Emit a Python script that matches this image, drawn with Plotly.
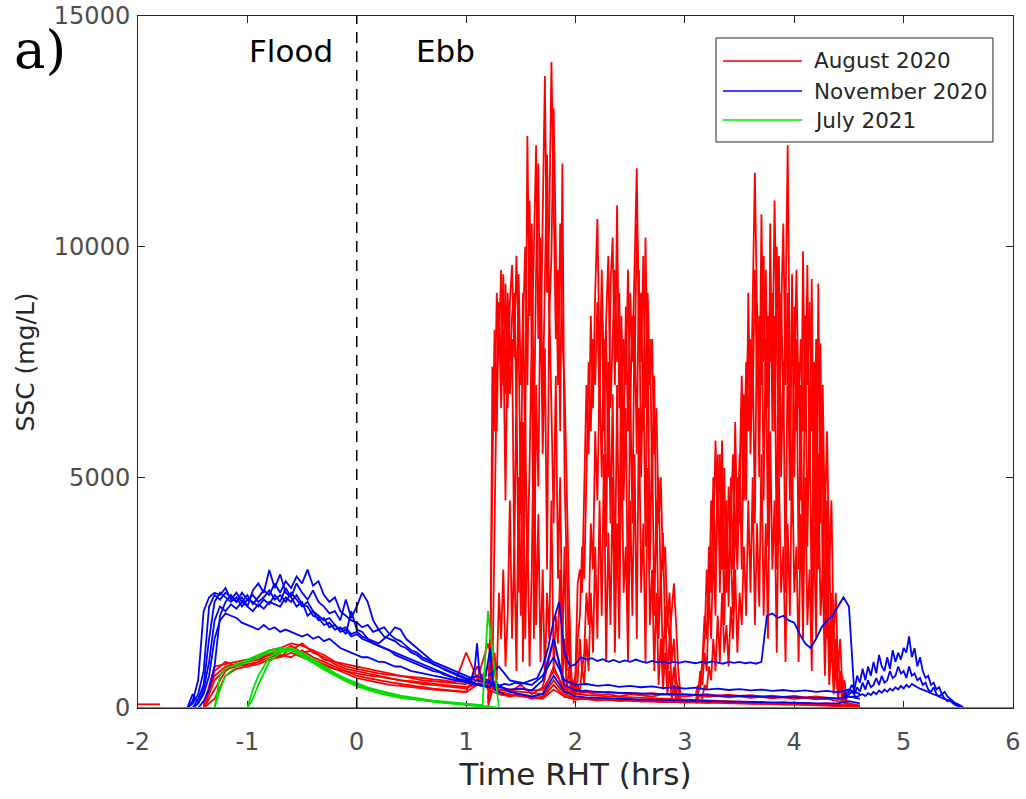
import plotly.graph_objects as go

# ---------------- axis ticks ----------------
X_TICKS = [-2, -1, 0, 1, 2, 3, 4, 5, 6]
X_TICK_LABELS = ["-2", "-1", "0", "1", "2", "3", "4", "5", "6"]
Y_TICKS = [0, 5000, 10000, 15000]
Y_TICK_LABELS = ["0", "5000", "10000", "15000"]

# ---------------- August 2020 (red) ----------------
T_RED = [-1.4, -1.3, -1.2, -1.1, -1.0, -0.9, -0.8, -0.7, -0.6, -0.5, -0.4, -0.3, -0.2, -0.1,
         0.0, 0.1, 0.2, 0.3, 0.4, 0.5, 0.6, 0.7, 0.8, 0.9, 1.0, 1.1, 1.2, 1.3, 1.4, 1.5, 1.6,
         1.7, 1.8, 1.9, 2.0, 2.1, 2.2, 2.3, 2.4, 2.5, 2.6, 2.7, 2.8, 2.9, 3.0, 3.1, 3.2, 3.3,
         3.4, 3.5, 3.6, 3.7, 3.8, 3.9, 4.0, 4.1, 4.2, 4.3, 4.4, 4.5, 4.6]
AUG_1 = [50, 900, 950, 1000, 1050, 1100, 1250, 1300, 1250, 1400,
         1200, 1100, 950, 850, 800, 750, 700, 650, 600, 580,
         550, 520, 500, 480, 450, 500, 600, 400, 350, 500,
         300, 450, 1500, 400, 300, 350, 280, 300, 250, 300,
         280, 250, 300, 270, 250, 280, 240, 260, 230, 250,
         220, 240, 210, 230, 200, 220, 190, 200, 150, 80, 50]
AUG_2 = [0, 800, 1000, 900, 1000, 1050, 1150, 1200, 1350, 1200,
         1250, 1050, 1000, 900, 850, 800, 750, 720, 700, 680,
         650, 620, 600, 560, 1200, 650, 500, 450, 400, 420,
         380, 400, 800, 450, 350, 380, 330, 350, 320, 330,
         300, 320, 290, 310, 300, 280, 300, 270, 290, 260,
         280, 250, 270, 240, 260, 230, 250, 220, 200, 100, 50]
AUG_3 = [100, 700, 900, 950, 900, 1000, 1100, 1150, 1100, 1250,
         1100, 1000, 900, 800, 700, 650, 600, 560, 520, 480,
         450, 420, 400, 380, 350, 900, 400, 300, 250, 300,
         200, 250, 600, 300, 200, 220, 180, 200, 170, 190,
         160, 180, 150, 170, 140, 160, 130, 150, 120, 140,
         110, 130, 100, 120, 100, 110, 90, 100, 80, 50, 30]
AUG_4 = [0, 600, 850, 900, 950, 1000, 1200, 1100, 1300, 1150,
         1050, 950, 850, 800, 750, 700, 680, 640, 600, 560,
         520, 500, 480, 450, 420, 600, 1400, 350, 300, 250,
         220, 200, 400, 250, 180, 200, 160, 180, 150, 170,
         140, 160, 130, 150, 120, 140, 110, 130, 100, 120,
         100, 90, 100, 80, 90, 70, 80, 60, 50, 30, 20]
AUG_5 = [0, 400, 800, 950, 1000, 1100, 1150, 1300, 1400, 1350,
         1250, 1150, 1000, 950, 900, 850, 800, 750, 700, 650,
         600, 580, 560, 540, 520, 700, 450, 400, 380, 350,
         330, 300, 900, 350, 300, 280, 260, 250, 240, 230,
         220, 210, 200, 190, 180, 170, 160, 150, 140, 130,
         120, 110, 100, 100, 90, 90, 80, 80, 70, 50, 30]
AUG_6 = [0, 200, 700, 850, 900, 950, 1050, 1100, 1200, 1100,
         1000, 900, 850, 750, 650, 600, 550, 500, 480, 450,
         430, 400, 380, 360, 340, 500, 900, 300, 280, 260,
         240, 220, 500, 240, 200, 190, 180, 170, 160, 150,
         140, 140, 130, 130, 120, 120, 110, 110, 100, 100,
         90, 90, 80, 80, 70, 70, 60, 60, 50, 40, 20]
AUG_PRE_T = [-2.0, -1.8]
AUG_PRE = [80, 80]

# ebb bursts
T_B1 = [1.20, 1.22, 1.24, 1.26, 1.28, 1.30, 1.32, 1.34, 1.36, 1.38,
        1.40, 1.42, 1.44, 1.46, 1.48, 1.50, 1.52, 1.54, 1.56, 1.58,
        1.60, 1.62, 1.64, 1.66, 1.68, 1.70, 1.72, 1.74, 1.76, 1.78,
        1.80, 1.82, 1.84, 1.86, 1.88, 1.90, 1.92, 1.94, 1.96, 1.98]
B1_A = [0, 300, 7400, 6000, 9000, 7800, 9500, 7000, 9200, 6500,
        8800, 9600, 7600, 9800, 8000, 4200, 9000, 5500, 12400, 8500,
        10500, 6000, 9500, 11800, 7500, 10800, 13700, 9000, 10500, 14000,
        11000, 8000, 9500, 6000, 11800, 5000, 3000, 1200, 500, 300]
B1_B = [200, 1500, 600, 3500, 7200, 8600, 6500, 8200, 4500, 8500,
        6800, 8000, 3200, 7000, 2500, 6200, 1000, 6300, 3000, 5200,
        8200, 1500, 7000, 4800, 9200, 5500, 7800, 3000, 8800, 6500,
        4000, 7200, 2800, 5000, 1200, 3500, 800, 2200, 400, 600]
B1_C = [100, 200, 400, 1200, 600, 2500, 1500, 3000, 900, 2000,
        4500, 1500, 3500, 800, 5000, 2000, 6200, 1500, 4000, 900,
        3000, 6500, 1800, 4200, 1000, 3000, 600, 2500, 1500, 4500,
        800, 2000, 1400, 3000, 600, 1500, 300, 900, 300, 200]
B1_D = [100, 800, 5000, 8200, 6000, 8800, 7200, 9400, 6800, 9000,
        7500, 8500, 9000, 6500, 9400, 7000, 8200, 10000, 7000, 11000,
        7800, 9800, 12200, 8000, 10200, 6500, 9000, 12000, 8500, 9800,
        13000, 9500, 7000, 10500, 8000, 7000, 4500, 2500, 800, 300]

T_B2 = [1.98, 2.00, 2.02, 2.04, 2.06, 2.08, 2.10, 2.12, 2.14, 2.16,
        2.18, 2.20, 2.22, 2.24, 2.26, 2.28, 2.30, 2.32, 2.34, 2.36,
        2.38, 2.40, 2.42, 2.44, 2.46, 2.48, 2.50, 2.52, 2.54, 2.56,
        2.58, 2.60, 2.62, 2.64, 2.66, 2.68, 2.70, 2.72, 2.74, 2.76,
        2.78, 2.80, 2.82, 2.84, 2.86, 2.88, 2.90, 2.92, 2.94, 2.96]
B2_A = [300, 800, 2700, 3000, 2500, 4500, 7000, 5500, 8500, 6500,
        9000, 10600, 7500, 9000, 6000, 8200, 5000, 9200, 10200, 7000,
        10900, 6500, 8200, 5500, 8700, 6000, 9000, 7500, 9600, 11700,
        8000, 9000, 6000, 10200, 7000, 8000, 5000, 7200, 3500, 5000,
        2500, 3800, 1500, 2000, 1500, 2200, 2700, 1800, 800, 300]
B2_B = [200, 400, 600, 1500, 800, 1200, 2500, 1800, 4000, 3000,
        6000, 4500, 7200, 5000, 8000, 3500, 7500, 4000, 6800, 2500,
        7000, 3000, 8500, 4500, 6500, 2000, 7000, 4000, 8500, 5500,
        9500, 5000, 7500, 3500, 8200, 3000, 6000, 2000, 4500, 1500,
        3000, 800, 2200, 600, 1500, 400, 900, 300, 500, 200]
B2_C = [100, 300, 500, 300, 900, 500, 1500, 800, 2500, 1200,
        3500, 1500, 4500, 2000, 5500, 1000, 3800, 1800, 5000, 1200,
        4000, 1500, 6000, 2500, 3500, 1000, 4500, 2000, 5500, 1500,
        6500, 2500, 4000, 1000, 5200, 1800, 3000, 800, 2500, 500,
        1500, 400, 1200, 300, 800, 200, 500, 150, 300, 100]
B2_D = [200, 500, 1500, 2000, 3500, 2800, 5000, 7500, 6000, 8000,
        7000, 8800, 6500, 9500, 7000, 8500, 9800, 6500, 8000, 9500,
        7500, 9000, 6000, 8000, 7000, 9500, 6500, 8500, 7000, 10500,
        9000, 7500, 9800, 6500, 9000, 7000, 8000, 5500, 6500, 4000,
        5000, 3000, 3500, 1800, 2500, 1000, 1500, 600, 400, 200]

T_B3 = [3.10, 3.12, 3.14, 3.16, 3.18, 3.20, 3.22, 3.24, 3.26, 3.28,
        3.30, 3.32, 3.34, 3.36, 3.38, 3.40, 3.42, 3.44, 3.46, 3.48,
        3.50, 3.52, 3.54, 3.56, 3.58, 3.60, 3.62, 3.64, 3.66, 3.68,
        3.70, 3.72, 3.74, 3.76, 3.78, 3.80, 3.82, 3.84, 3.86, 3.88,
        3.90, 3.92, 3.94, 3.96, 3.98, 4.00, 4.02, 4.04, 4.06, 4.08,
        4.10, 4.12, 4.14, 4.16, 4.18, 4.20, 4.22, 4.24, 4.26, 4.28,
        4.30, 4.32, 4.34, 4.36, 4.38, 4.40, 4.42, 4.44, 4.46, 4.48, 4.50]
B3_A = [300, 500, 400, 900, 1500, 3000, 2000, 4500, 3500, 5800,
        4000, 5500, 3000, 5200, 2500, 4800, 3500, 2000, 4200, 3000,
        5000, 7200, 4500, 6500, 8200, 6000, 9000, 11600, 8500, 6000,
        10700, 7500, 9500, 6500, 9200, 7000, 11000, 8000, 5000, 9000,
        6500, 8500, 12200, 7000, 4000, 8700, 6000, 7500, 4500, 9900,
        6000, 9600, 5000, 9300, 4000, 8000, 3000, 7900, 2500, 5000,
        1500, 3500, 1000, 2000, 600, 1200, 400, 700, 200, 100, 50]
B3_B = [200, 300, 800, 500, 1200, 800, 2500, 1500, 3500, 2000,
        5500, 2500, 4800, 1800, 4000, 2200, 5000, 3000, 6200, 3500,
        5500, 3000, 6800, 4500, 9000, 5500, 7800, 4000, 8800, 5000,
        9500, 4500, 8000, 3500, 10500, 6000, 8500, 3000, 9800, 5000,
        7500, 2500, 8000, 4500, 9400, 5000, 8000, 3000, 7000, 2500,
        8500, 3500, 6500, 2000, 7500, 3000, 9200, 4000, 6000, 1500,
        4500, 800, 2500, 500, 1500, 300, 800, 200, 400, 100, 50]
B3_C = [100, 200, 300, 200, 500, 400, 900, 600, 1500, 800,
        2000, 1000, 2500, 1200, 1800, 900, 2200, 1500, 3000, 1200,
        2500, 1800, 3500, 2000, 4500, 2500, 5000, 1800, 4000, 2200,
        5500, 2000, 4000, 1500, 6000, 3000, 4500, 1200, 5000, 2500,
        3500, 1000, 4000, 2000, 5500, 2500, 3500, 1000, 4200, 1500,
        5000, 1800, 3000, 800, 4000, 1500, 5500, 2000, 3000, 700,
        2500, 500, 1500, 300, 900, 200, 500, 150, 300, 80, 30]
B3_D = [150, 300, 600, 1000, 2000, 1500, 3500, 2500, 5000, 3000,
        4500, 3500, 5800, 3000, 4500, 2500, 4000, 5500, 3500, 5000,
        4000, 6500, 5000, 7500, 6000, 8000, 6500, 9500, 7000, 8500,
        7000, 9800, 6500, 8500, 7500, 9000, 6000, 10000, 7500, 8500,
        10500, 7000, 9000, 6000, 8500, 7000, 9500, 6500, 8000, 6000,
        8500, 7000, 8800, 6000, 7500, 5500, 8000, 5000, 7000, 4000,
        6000, 3000, 4500, 1500, 2500, 800, 1500, 400, 600, 150, 50]

# ---------------- November 2020 (blue) ----------------
T_BF = [-1.55, -1.50, -1.45, -1.40, -1.35, -1.30, -1.25, -1.20, -1.15, -1.10,
        -1.05, -1.00, -0.95, -0.90, -0.85, -0.80, -0.75, -0.70, -0.65, -0.60,
        -0.55, -0.50, -0.45, -0.40, -0.35, -0.30, -0.25, -0.20, -0.15, -0.10,
        -0.05, 0.00, 0.05, 0.10, 0.15, 0.20, 0.25, 0.30, 0.35, 0.40,
        0.45, 0.50, 0.55, 0.60, 0.65, 0.70, 0.75, 0.80, 0.85, 0.90,
        0.95, 1.00, 1.05, 1.10, 1.15, 1.20]
NOV_1 = [0, 150, 600, 2100, 2400, 2500, 2450, 2600, 2350, 2500,
         2300, 2450, 2250, 2400, 2550, 2450, 2700, 2500, 2750, 2600,
         2850, 2700, 3000, 2650, 2750, 2450, 2300, 2400, 2100, 2000,
         1900, 1850, 1750, 1800, 1650, 1700, 1550, 1500, 1450, 1350,
         1300, 1200, 1150, 1050, 1000, 950, 900, 830, 780, 720,
         680, 620, 570, 520, 500, 470]
NOV_2 = [0, 100, 300, 800, 2200, 2450, 2350, 2500, 2400, 2300,
         2400, 2200, 2550, 2700, 2500, 2990, 2600, 2900, 2500, 2400,
         2200, 2300, 2000, 2100, 1900, 1950, 1750, 1800, 1650, 1700,
         1550, 1600, 1500, 1450, 1400, 1350, 1300, 1250, 1150, 1100,
         1050, 1000, 950, 900, 850, 800, 780, 720, 680, 640,
         600, 560, 530, 500, 470, 450]
NOV_3 = [0, 0, 200, 500, 1500, 2300, 2500, 2400, 2300, 2400,
         2200, 2350, 2300, 2200, 2350, 2250, 2450, 2300, 2600, 2400,
         2700, 2500, 2350, 2550, 2300, 2200, 2050, 2100, 1900, 2350,
         1950, 2200, 2500, 2300, 1900, 1700, 1750, 1600, 1500, 1450,
         1350, 1250, 1200, 1100, 1050, 950, 900, 850, 800, 750,
         700, 650, 620, 600, 580, 550]
NOV_4 = [0, 300, 100, 400, 1000, 1900, 2200, 2100, 2250, 2150,
         2300, 2200, 2100, 2250, 2150, 2300, 2250, 2200, 2400, 2300,
         2450, 2250, 2200, 2000, 1950, 1800, 1850, 1700, 1750, 1600,
         2100, 1700, 1650, 1500, 1450, 1400, 1500, 1600, 1750, 1700,
         1500, 1400, 1300, 1200, 1100, 1000, 950, 900, 850, 800,
         750, 700, 650, 700, 650, 600]
NOV_5 = [0, 0, 100, 300, 700, 1500, 1900, 2050, 2000, 1950,
         1850, 1800, 1750, 1700, 1800, 1700, 1750, 1650, 1700, 1650,
         1600, 1550, 1600, 1500, 1550, 1450, 1500, 1400, 1300, 1250,
         1200, 1150, 1100, 1100, 1050, 1000, 1000, 950, 900, 900,
         850, 800, 780, 750, 720, 700, 680, 650, 620, 600,
         580, 550, 520, 500, 480, 460]
NOV_6 = [0, 0, 0, 150, 400, 900, 2000, 2300, 2450, 2300,
         2500, 2350, 2450, 2300, 2400, 2550, 2350, 2450, 2300, 2500,
         2350, 2200, 2300, 2100, 2000, 1900, 1950, 1800, 1700, 1750,
         1600, 1650, 1550, 1500, 1400, 1350, 1300, 1250, 1200, 1150,
         1100, 1050, 1000, 950, 900, 850, 800, 750, 700, 650,
         620, 580, 550, 520, 500, 480]

T_BS = [1.00, 1.05, 1.08, 1.10, 1.12, 1.15, 1.18, 1.20, 1.22, 1.24, 1.26, 1.30, 1.35]
NOV_SPIKE = [600, 650, 900, 1400, 800, 600, 700, 1000, 1300, 600, 400, 350, 300]

T_BE = [1.20, 1.25, 1.30, 1.35, 1.40, 1.45, 1.50, 1.55, 1.60, 1.65,
        1.70, 1.75, 1.80, 1.85, 1.90, 1.95, 2.00, 2.05, 2.10, 2.15,
        2.20, 2.25, 2.30, 2.35, 2.40, 2.45, 2.50, 2.55, 2.60, 2.65,
        2.70, 2.75, 2.80, 2.85, 2.90, 2.95, 3.00, 3.05, 3.10, 3.15,
        3.20, 3.25, 3.30, 3.35, 3.40, 3.45, 3.50, 3.55, 3.60, 3.65,
        3.70, 3.75, 3.80, 3.85, 3.90, 3.95, 4.00, 4.05, 4.10, 4.15,
        4.20, 4.25, 4.30, 4.35, 4.40, 4.45, 4.50, 4.55]
NOV_E1 = [450, 500, 480, 520, 500, 550, 520, 560, 600, 650,
          900, 1300, 1900, 2300, 1200, 900, 950, 1100, 1050, 1080,
          1020, 1060, 1000, 1040, 990, 1030, 1000, 1050, 1010, 980,
          1020, 990, 1010, 970, 1000, 980, 1010, 990, 970, 1000,
          980, 1010, 990, 960, 1000, 980, 1000, 970, 990, 960,
          1000, 2000, 2050, 1950, 2000, 1900, 1850, 1600, 1400, 1300,
          1500, 1750, 1900, 2000, 2200, 2400, 2200, 300]

T_BL = [1.2, 1.3, 1.4, 1.5, 1.6, 1.7, 1.8, 1.9, 2.0, 2.1,
        2.2, 2.3, 2.4, 2.5, 2.6, 2.7, 2.8, 2.9, 3.0, 3.1,
        3.2, 3.3, 3.4, 3.5, 3.6, 3.7, 3.8, 3.9, 4.0, 4.1,
        4.2, 4.3, 4.4, 4.5, 4.6]
NOV_E2 = [700, 900, 600, 550, 500, 700, 1100, 600, 500, 520,
          480, 500, 460, 480, 450, 470, 430, 450, 420, 440,
          400, 420, 390, 410, 380, 400, 370, 390, 360, 380,
          350, 370, 340, 400, 300]
NOV_E3 = [550, 450, 400, 420, 380, 600, 1500, 500, 380, 360,
          350, 340, 330, 320, 320, 310, 300, 300, 290, 280,
          280, 270, 260, 260, 250, 250, 240, 240, 230, 230,
          220, 220, 210, 250, 200]
NOV_E4 = [600, 500, 350, 300, 250, 300, 700, 350, 250, 230,
          220, 200, 200, 190, 180, 180, 170, 170, 160, 160,
          150, 150, 140, 140, 130, 130, 120, 120, 110, 110,
          100, 100, 100, 150, 100]

T_BC = [4.450, 4.475, 4.500, 4.525, 4.550, 4.575, 4.600, 4.625, 4.650, 4.675,
        4.700, 4.725, 4.750, 4.775, 4.800, 4.825, 4.850, 4.875, 4.900, 4.925,
        4.950, 4.975, 5.000, 5.025, 5.050, 5.075, 5.100, 5.125, 5.150, 5.175,
        5.200, 5.225, 5.250, 5.275, 5.300, 5.325, 5.350, 5.375, 5.400, 5.425,
        5.450, 5.475, 5.500, 5.525, 5.550]
NOV_C1 = [300, 320, 350, 500, 400, 700, 550, 850, 600, 900,
          700, 1000, 750, 1150, 900, 800, 1100, 850, 1250, 1000,
          1200, 1050, 1300, 1200, 1550, 1100, 1300, 900, 1100, 800,
          650, 700, 500, 550, 400, 450, 300, 350, 250, 200,
          150, 100, 80, 50, 0]
NOV_C2 = [250, 280, 300, 350, 300, 450, 350, 550, 400, 600,
          450, 500, 650, 500, 700, 550, 600, 800, 650, 700,
          900, 750, 800, 650, 900, 700, 750, 600, 650, 500,
          550, 400, 350, 450, 300, 250, 300, 200, 150, 180,
          100, 60, 40, 20, 0]
NOV_C3 = [200, 220, 250, 230, 260, 240, 280, 300, 260, 320,
          280, 350, 300, 380, 330, 400, 350, 420, 380, 450,
          400, 480, 420, 500, 450, 520, 480, 450, 420, 400,
          380, 350, 320, 300, 280, 250, 220, 200, 180, 150,
          120, 100, 60, 30, 0]

# ---------------- July 2021 (green) ----------------
T_G = [-1.40, -1.35, -1.30, -1.25, -1.20, -1.15, -1.10, -1.05, -1.00, -0.95,
       -0.90, -0.80, -0.70, -0.60, -0.50, -0.40, -0.30, -0.20, -0.10, 0.00,
       0.10, 0.20, 0.30, 0.40, 0.50, 0.60, 0.70, 0.80, 0.90, 1.00,
       1.10, 1.15, 1.20, 1.25, 1.30]
JUL_1 = [0, 0, 0, 700, 850, 900, 950, 1000, 1050, 1100,
         1150, 1250, 1300, 1300, 1200, 1050, 900, 760, 640, 540,
         450, 380, 320, 270, 230, 190, 160, 140, 120, 100,
         80, 60, 2100, 1100, 0]
JUL_2 = [0, 0, 0, 400, 700, 800, 900, 950, 1000, 1050,
         1100, 1200, 1250, 1250, 1150, 1000, 860, 730, 610, 500,
         420, 350, 290, 240, 200, 170, 140, 120, 100, 80,
         60, 40, 30, 20, 0]
JUL_3 = [0, 0, 0, 0, 0, 0, 0, 0, 0, 400,
         700, 1100, 1250, 1300, 1180, 1020, 870, 740, 620, 510,
         430, 360, 300, 250, 210, 180, 150, 130, 110, 90,
         60, 40, 20, 0, 0]
JUL_4 = [0, 0, 0, 0, 0, 0, 0, 0, 0, 200,
         500, 1000, 1200, 1250, 1120, 980, 830, 700, 580, 470,
         390, 320, 270, 220, 190, 160, 130, 110, 90, 70,
         50, 30, 10, 0, 0]
JUL_ZERO_T = [-2.0, 6.0]
JUL_ZERO = [0, 0]

RED = "#ff0000"
BLUE = "#0000ff"
GREEN = "#00e000"
FONT = "DejaVu Sans"
AX = "#262626"
LW = 1.8

fig = go.Figure()


def add(x, y, color, width=LW):
    fig.add_trace(go.Scatter(x=x, y=y, mode="lines", showlegend=False, hoverinfo="skip",
                             line=dict(color=color, width=width)))


add(AUG_PRE_T, AUG_PRE, RED)
for s in (AUG_1, AUG_2, AUG_3, AUG_4, AUG_5, AUG_6):
    add(T_RED, s, RED)
for s in (B1_C, B1_B, B1_D, B1_A):
    add(T_B1, s, RED)
for s in (B2_C, B2_B, B2_D, B2_A):
    add(T_B2, s, RED)
for s in (B3_C, B3_B, B3_D, B3_A):
    add(T_B3, s, RED)

for s in (NOV_1, NOV_2, NOV_3, NOV_4, NOV_5, NOV_6):
    add(T_BF, s, BLUE)
add(T_BS, NOV_SPIKE, BLUE)
add(T_BE, NOV_E1, BLUE)
for s in (NOV_E2, NOV_E3, NOV_E4):
    add(T_BL, s, BLUE)
for s in (NOV_C1, NOV_C2, NOV_C3):
    add(T_BC, s, BLUE)

add(JUL_ZERO_T, JUL_ZERO, GREEN, 2.2)
for s in (JUL_1, JUL_2, JUL_3, JUL_4):
    add(T_G, s, GREEN)

# flood/ebb divider
fig.add_shape(type="line", xref="x", yref="y", x0=0, x1=0, y0=0, y1=15000,
              line=dict(color="black", width=1.5, dash="11px,8px"), layer="above")

# manual legend (MATLAB style)
LEG_NAMES = ["August 2020", "November 2020", "July 2021"]
LEG_COLORS = [RED, BLUE, GREEN]
LEG_ROWS = [0.935, 0.8916, 0.8497]
fig.add_shape(type="rect", xref="paper", yref="paper", x0=0.6606, x1=0.9771, y0=0.8179, y1=0.9682,
              line=dict(color=AX, width=1), fillcolor="white", layer="above")
for name, col, yy in zip(LEG_NAMES, LEG_COLORS, LEG_ROWS):
    fig.add_shape(type="line", xref="paper", yref="paper", x0=0.6686, x1=0.7589, y0=yy, y1=yy,
                  line=dict(color=col, width=1.5), layer="above")
    fig.add_annotation(xref="paper", yref="paper", x=0.7703, y=yy, text=name, showarrow=False,
                       xanchor="left", yanchor="middle", font=dict(family=FONT, size=21.5, color=AX))

fig.add_annotation(xref="x", yref="y", x=-0.6, y=14240, text="Flood", showarrow=False,
                   font=dict(family=FONT, size=31, color="black"))
fig.add_annotation(xref="x", yref="y", x=0.81, y=14240, text="Ebb", showarrow=False,
                   font=dict(family=FONT, size=31, color="black"))
fig.add_annotation(xref="paper", yref="paper", x=-0.1445, y=0.952, text="a)", showarrow=False,
                   xanchor="left", yanchor="middle",
                   font=dict(family="DejaVu Serif", size=53, color="black"))

axis_common = dict(showgrid=False, zeroline=False, showline=True, linecolor=AX, linewidth=1,
                   mirror="ticks", ticks="inside", ticklen=7, tickcolor=AX, tickwidth=1,
                   tickfont=dict(family=FONT, size=24, color="#4d4d4d"), layer="below traces",
                   automargin=False)
fig.update_xaxes(range=[-2, 6], tickvals=X_TICKS, ticktext=X_TICK_LABELS, ticklabelstandoff=12,
                 title=dict(text="Time RHT (hrs)", font=dict(family=FONT, size=31, color=AX), standoff=4),
                 **axis_common)
fig.update_yaxes(range=[0, 15000], tickvals=Y_TICKS, ticktext=Y_TICK_LABELS, ticklabelstandoff=2,
                 title=dict(text="SSC (mg/L)", font=dict(family=FONT, size=25, color=AX), standoff=12),
                 **axis_common)
fig.update_layout(width=1026, height=799, margin=dict(l=138, r=13, t=16, b=91, autoexpand=False),
                  paper_bgcolor="white", plot_bgcolor="white", showlegend=False)

fig.write_html("out.html")
